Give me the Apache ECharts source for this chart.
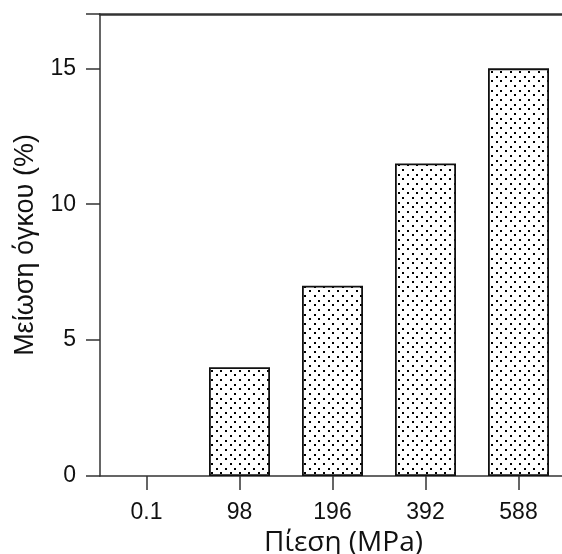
<!DOCTYPE html>
<html>
<head>
<meta charset="utf-8">
<script src="https://cdn.jsdelivr.net/npm/echarts@6/dist/echarts.min.js"></script>
<style>
html,body{margin:0;padding:0;background:#fff;}
#c{width:562px;height:554px;}
</style>
</head>
<body>
<div id="c"></div>
<script>
var categories = ['0.1', '98', '196', '392', '588'];
var volumeReduction = [0, 4.0, 7.0, 11.5, 15.0];
var yTicks = [0, 5, 10, 15];
var xAxisTitle = 'Πίεση (MPa)';
var yAxisTitle = 'Μείωση όγκου (%)';

function makeDots() {
  var c = document.createElement('canvas');
  c.width = 28; c.height = 28;
  var g = c.getContext('2d');
  g.fillStyle = '#ffffff';
  g.fillRect(0, 0, 28, 28);
  g.fillStyle = '#000000';
  var xs0 = [0, 9, 19], xs1 = [5, 14, 23];
  var ys = [0, 5, 9, 14, 19, 23];
  for (var r = 0; r < ys.length; r++) {
    var xs = (r % 2 === 0) ? xs0 : xs1;
    for (var k = 0; k < xs.length; k++) {
      g.fillRect(xs[k] + 1, ys[r] + 1, 2, 2);
    }
  }
  return c;
}

var chart = echarts.init(document.getElementById('c'), null, {renderer: 'canvas'});
var axisColor = '#333333';
var dots = makeDots();
chart.setOption({
  animation: false,
  backgroundColor: '#ffffff',
  grid: {left: 100, right: -3, top: 14, bottom: 78, containLabel: false, outerBoundsMode: 'none'},
  xAxis: [{
    type: 'category',
    data: categories,
    position: 'bottom',
    axisLine: {show: true, onZero: false, lineStyle: {color: axisColor, width: 1.5}},
    axisTick: {show: true, alignWithLabel: true, length: 14, lineStyle: {color: axisColor, width: 1.5}},
    axisLabel: {show: true, margin: 25, fontSize: 23, color: '#111', fontFamily: 'Liberation Sans'},
    name: xAxisTitle,
    nameLocation: 'middle',
    nameGap: 50,
    nameTextStyle: {fontSize: 28, color: '#111', fontFamily: 'Open Sans', padding: [0, 0, 0, 22]},
    splitLine: {show: false}
  }, {
    type: 'category',
    data: categories,
    position: 'top',
    axisLine: {show: true, onZero: false, lineStyle: {color: axisColor, width: 2.5}},
    axisTick: {show: false},
    axisLabel: {show: false},
    splitLine: {show: false}
  }],
  yAxis: {
    type: 'value',
    min: 0,
    max: 17,
    interval: 5,
    axisLine: {show: true, onZero: false, lineStyle: {color: axisColor, width: 1.5}},
    axisTick: {show: true, length: 14, lineStyle: {color: axisColor, width: 1.5}},
    axisLabel: {
      margin: 24, fontSize: 23, color: '#111', fontFamily: 'Liberation Sans',
      formatter: function (v) { return yTicks.indexOf(v) >= 0 ? String(v) : ''; }
    },
    splitLine: {show: false},
    name: yAxisTitle,
    nameLocation: 'middle',
    nameGap: 61,
    nameTextStyle: {fontSize: 27, color: '#111', fontFamily: 'Liberation Sans'}
  },
  series: [{
    type: 'bar',
    xAxisIndex: 0,
    data: volumeReduction.map(function (v) {
      return {value: v, itemStyle: {borderWidth: v === 0 ? 0 : 1.8}};
    }),
    barWidth: 61,
    itemStyle: {
      color: {image: dots, repeat: 'repeat'},
      borderColor: '#111'
    }
  }]
});
</script>
</body>
</html>
